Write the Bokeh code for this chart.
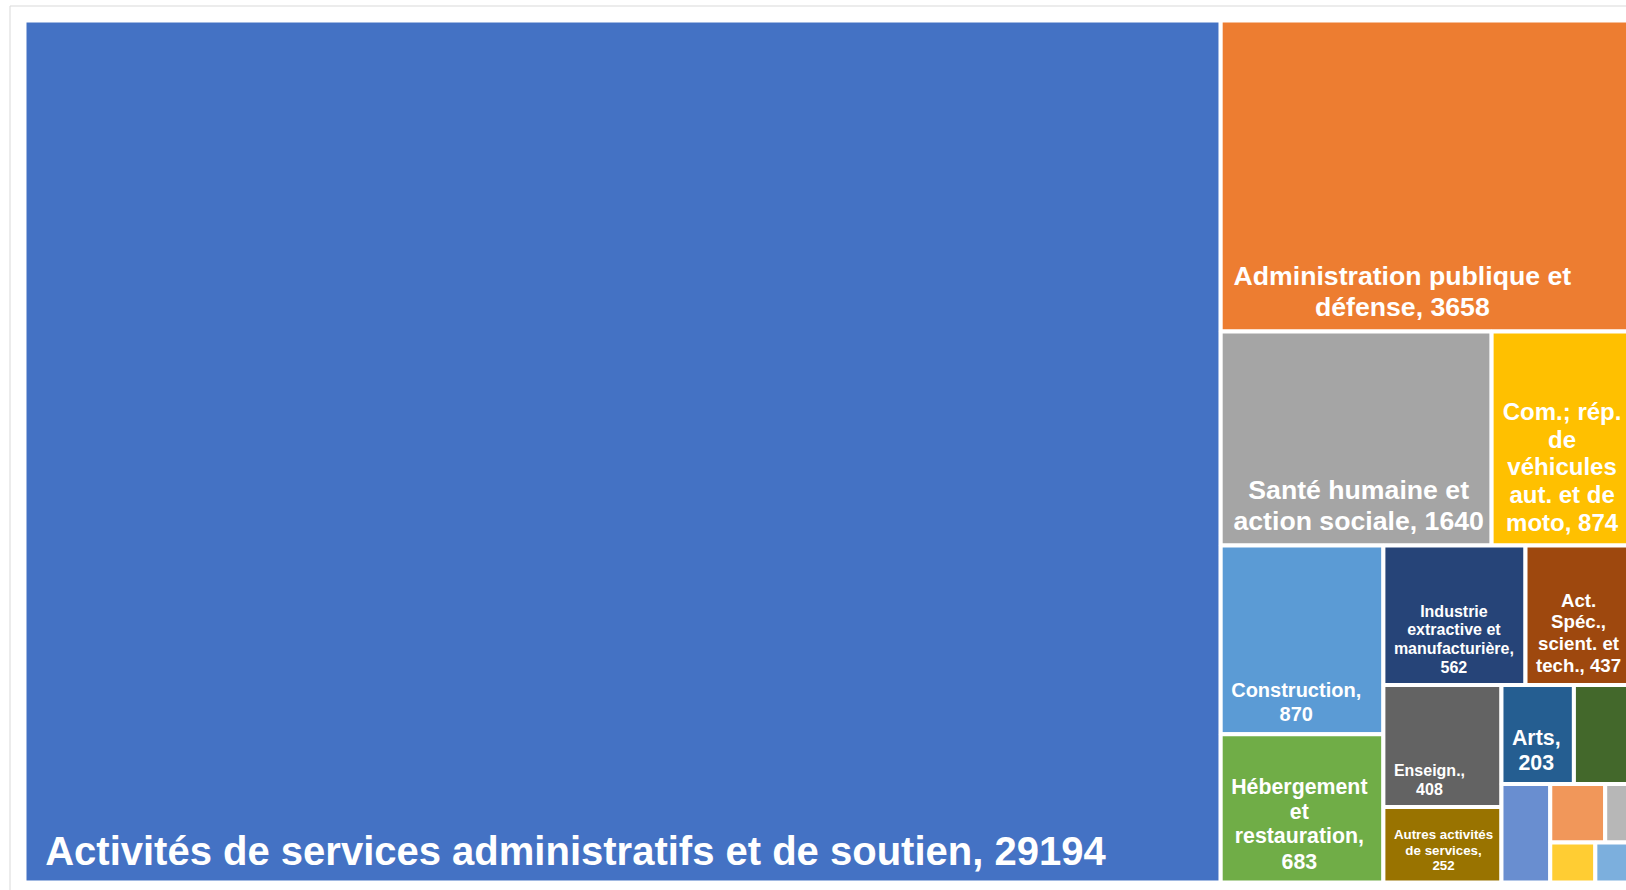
from bokeh.plotting import figure
from bokeh.models import Range1d, ColumnDataSource
from bokeh.embed import file_html
from bokeh.resources import INLINE
from bokeh.core.properties import value

# ---------------- data ----------------
categories = [
    "Activités de services administratifs et de soutien",
    "Administration publique et défense",
    "Santé humaine et action sociale",
    "Com.; rép. de véhicules aut. et de moto",
    "Construction",
    "Hébergement et restauration",
    "Industrie extractive et manufacturière",
    "Act. Spéc., scient. et tech.",
    "Enseign.",
    "Autres activités de services",
    "Arts",
    "Transports et entreposage",
    "Information et communication",
    "Activités financières et d'assurance",
    "Activités immobilières",
    "Agriculture, sylviculture et pêche",
    "Énergie, eau et déchets",
]
values = [29194, 3658, 1640, 874, 870, 683, 562, 437, 408, 252, 203, 174, 136, 91, 51, 51, 46]

# ---------------- styles ----------------
colors = ["#4472C4", "#ED7D31", "#A5A5A5", "#FFC000", "#5B9BD5", "#70AD47",
          "#264478", "#9E480E", "#636363", "#997300", "#255E91", "#43682B",
          "#698ED0", "#F1975A", "#B7B7B7", "#FFCD33", "#7CAFDD"]
label_font_px = [40, 26.67, 26.67, 24, 20, 21.33, 16, 18.67, 16, 13.33, 21.33,
                 13.33, 13.33, 13.33, 13.33, 13.33, 13.33]

W, H = 1626, 890
AREA_X, AREA_Y, AREA_W, AREA_H = 24, 20, 1611.5, 862

# Arial / Liberation Sans Bold advance widths (per 1000 em)
CW = {" ": 278, ",": 278, ".": 278, ";": 333, "'": 238,
      "A": 722, "C": 722, "E": 667, "H": 722, "I": 278, "S": 667, "T": 611, "É": 667,
      "a": 556, "b": 611, "c": 556, "d": 611, "e": 556, "f": 333, "g": 611, "h": 611,
      "i": 278, "l": 278, "m": 889, "n": 611, "o": 611, "p": 611, "q": 611, "r": 389,
      "s": 556, "t": 333, "u": 611, "v": 556, "x": 556, "y": 556, "ê": 556,
      "é": 556, "è": 556}
for d in "0123456789":
    CW[d] = 556


def text_w(s, fs):
    return sum(CW.get(ch, 600) for ch in s) / 1000.0 * fs


def wrap(text, fs, avail):
    lines, cur = [], ""
    for w in text.split(" "):
        cand = w if not cur else cur + " " + w
        if not cur or text_w(cand, fs) <= avail:
            cur = cand
        else:
            lines.append(cur)
            cur = w
    lines.append(cur)
    return lines


def worst(row, side, s):
    thick = sum(row) * s / side
    r = 0
    for v in row:
        length = v * s / thick
        r = max(r, thick / length, length / thick)
    return r


def squarify(vals, x, y, w, h):
    s = w * h / sum(vals)
    rects = []
    rest = list(vals)
    while rest:
        side = min(w, h)
        row = [rest[0]]
        i = 1
        while i < len(rest) and worst(row + [rest[i]], side, s) <= worst(row, side, s):
            row.append(rest[i])
            i += 1
        rest = rest[i:]
        tot = sum(row) * s
        if w >= h:
            cw = tot / h
            yy = y
            for v in row:
                hh = v * s / cw
                rects.append((x, x + cw, yy, yy + hh))
                yy += hh
            x += cw
            w -= cw
        else:
            rh = tot / w
            xx = x
            for v in row:
                ww = v * s / rh
                rects.append((xx, xx + ww, y, y + rh))
                xx += ww
            y += rh
            h -= rh
    return rects


rects = squarify(values, AREA_X, AREA_Y, AREA_W, AREA_H)

p = figure(width=W, height=H, x_range=Range1d(0, W), y_range=Range1d(H, 0),
           toolbar_location=None, output_backend="svg", min_border=0,
           x_axis_type=None, y_axis_type=None, outline_line_color=None)
p.background_fill_color = "white"
p.border_fill_color = "white"
p.grid.visible = False

# chart-area border
p.quad(left=[9.5], right=[W + 100], top=[5.5], bottom=[H + 100],
       fill_color=None, line_color="#D9D9D9", line_width=1)

src = ColumnDataSource(dict(
    left=[r[0] for r in rects], right=[r[1] for r in rects],
    top=[r[2] for r in rects], bottom=[r[3] for r in rects],
    color=colors, name=categories, val=values))
p.quad(left="left", right="right", top="top", bottom="bottom", source=src,
       fill_color="color", line_color="white", line_width=4)

tx, ty, tt, tf = [], [], [], []
for name, v, (l, r, t, b), fs in zip(categories, values, rects, label_font_px):
    label = f"{name}, {v}"
    avail = (r - l) - 18
    lines = wrap(label, fs, avail)
    if max(text_w(ln, fs) for ln in lines) > avail:
        continue
    lh = 1.16 * fs
    if len(lines) * lh + 8 > (b - t):
        continue
    block_w = max(text_w(ln, fs) for ln in lines)
    pad_x = max(10.5, 0.6 * fs - 3.3)
    cx = l + pad_x + block_w / 2
    base = b - (9.5 + 0.22 * fs) - 0.335 * fs
    n = len(lines)
    for i, ln in enumerate(lines):
        tx.append(cx)
        ty.append(base - (n - 1 - i) * lh)
        tt.append(ln)
        tf.append(f"{fs}px")

p.text(x="x", y="y", text="text", source=ColumnDataSource(dict(x=tx, y=ty, text=tt, fs=tf)),
       text_font=value("Liberation Sans"), text_font_style="bold", text_color="white",
       text_font_size="fs", text_align="center", text_baseline="alphabetic")

open("out.html", "w").write(file_html(p, INLINE))
